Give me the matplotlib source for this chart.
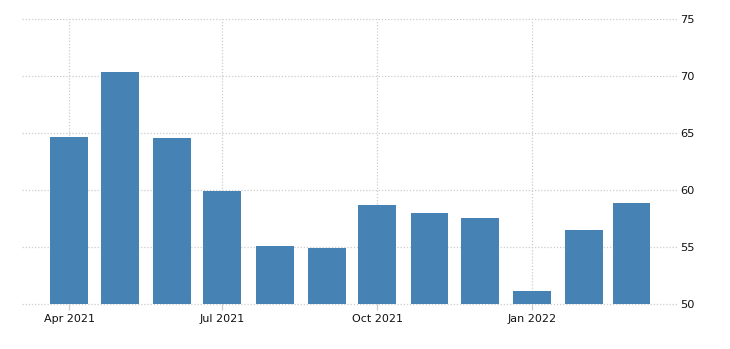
import matplotlib
matplotlib.use("Agg")
import matplotlib.pyplot as plt
import datetime as dt

months = ["2021-04", "2021-05", "2021-06", "2021-07", "2021-08", "2021-09",
          "2021-10", "2021-11", "2021-12", "2022-01", "2022-02", "2022-03"]
values = [64.65, 70.35, 64.55, 59.9, 55.1, 54.9, 58.7, 58.0, 57.55, 51.15, 56.5, 58.85]
yticks = [50, 55, 60, 65, 70, 75]
xtick_dates = ["2021-04", "2021-07", "2021-10", "2022-01"]
xtick_labels = ["Apr 2021", "Jul 2021", "Oct 2021", "Jan 2022"]

def to_date(s):
    y, m = s.split("-")
    return dt.date(int(y), int(m), 1)

dates = [to_date(m) for m in months]

fig = plt.figure(figsize=(7.30, 3.49), dpi=100)
ax = fig.add_axes([22/730, 45/349, (677-22)/730, (304-19)/349])

ax.bar(dates, [v - 50 for v in values], bottom=50, width=22.5,
       color="#4682B4", zorder=2)

ax.set_ylim(50, 75)
ax.set_xlim(dt.date(2021, 3, 4), dt.date(2022, 3, 28))
ax.set_yticks(yticks)
ax.set_yticklabels([str(t) for t in yticks])
ax.yaxis.tick_right()
ax.set_xticks([to_date(d) for d in xtick_dates])
ax.set_xticklabels(xtick_labels)

for s in ax.spines.values():
    s.set_visible(False)

ax.grid(True, color="#cccccc", linestyle=(0, (1, 1.5)), linewidth=0.9, zorder=0)
for gl in ax.get_ygridlines() + ax.get_xgridlines():
    gl.set_clip_on(False)
ax.tick_params(axis="y", length=0, pad=2, labelsize=8.2, labelcolor="#111111")
ax.tick_params(axis="x", length=4, color="#cccccc", width=0.9, pad=3,
               labelsize=8, labelcolor="#111111")

fig.savefig("out.png", dpi=100)
